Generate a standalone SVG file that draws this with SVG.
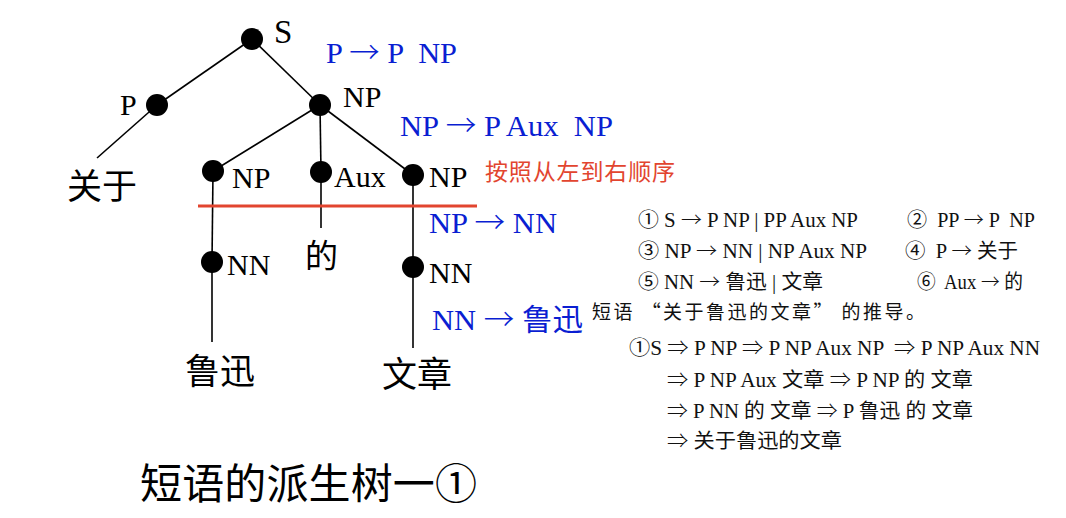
<svg xmlns="http://www.w3.org/2000/svg" width="1066" height="518" viewBox="0 0 1066 518">
<style>
.lbl{font-family:"Liberation Serif","Noto Sans CJK SC",serif;font-size:30px;fill:#000}
.cjk{font-family:"Noto Sans CJK SC",sans-serif;font-size:35px;fill:#000}
.blue{font-family:"Liberation Serif","Noto Sans CJK SC",serif;font-size:30px;fill:#0a1ed2;white-space:pre}
.red{font-family:"Noto Sans CJK SC",sans-serif;font-size:23px;fill:#e2452f}
.rt{font-family:"Liberation Serif","DejaVu Serif","Noto Sans CJK SC",serif;font-size:20px;fill:#111;white-space:pre}
.rc{font-family:"Noto Sans CJK SC",sans-serif;font-size:19px;fill:#111}
.ar{font-family:"Noto Sans CJK SC",sans-serif;font-weight:300}
.title{font-family:"Noto Sans CJK SC",sans-serif;font-size:42px;fill:#000}
.e{stroke:#000;stroke-width:1.6;fill:none}
.dot{fill:#000}
</style>
<g id="connectors">
<line class="e" x1="252" y1="39" x2="157" y2="105"/>
<line class="e" x1="252" y1="39" x2="320" y2="105"/>
<line class="e" x1="157" y1="105" x2="97" y2="158"/>
<line class="e" x1="320" y1="105" x2="213" y2="171"/>
<line class="e" x1="320" y1="105" x2="321" y2="172"/>
<line class="e" x1="320" y1="105" x2="413" y2="175"/>
<line class="e" x1="213" y1="171" x2="212" y2="262"/>
<line class="e" x1="212" y1="262" x2="212" y2="342"/>
<line class="e" x1="321" y1="172" x2="321" y2="228"/>
<line class="e" x1="413" y1="175" x2="413" y2="267"/>
<line class="e" x1="413" y1="267" x2="413" y2="348"/>
</g>
<g id="node-S"><circle class="dot" cx="252" cy="39" r="11"/><text class="lbl" x="274" y="43" style="font-size:33px">S</text></g>
<g id="node-P"><circle class="dot" cx="157" cy="105" r="11"/><text class="lbl" x="120" y="115">P</text></g>
<g id="node-NP"><circle class="dot" cx="320" cy="105" r="11"/><text class="lbl" x="343" y="107">NP</text></g>
<g id="leaf-guanyu"><text class="cjk" x="67" y="199">关于</text></g>
<g id="node-NP-left"><circle class="dot" cx="213" cy="171" r="11"/><text class="lbl" x="232" y="188">NP</text></g>
<g id="node-Aux"><circle class="dot" cx="321" cy="172" r="11"/><text class="lbl" x="334" y="187">Aux</text></g>
<g id="node-NP-right"><circle class="dot" cx="413" cy="175" r="11"/><text class="lbl" x="429" y="187">NP</text></g>
<g id="node-NN-left"><circle class="dot" cx="212" cy="262" r="11"/><text class="lbl" x="227" y="275">NN</text></g>
<g id="leaf-de"><text class="cjk" x="305" y="268" style="font-size:33px">的</text></g>
<g id="node-NN-right"><circle class="dot" cx="413" cy="267" r="11"/><text class="lbl" x="429" y="283">NN</text></g>
<g id="leaf-luxun"><text class="cjk" x="185" y="384">鲁迅</text></g>
<g id="leaf-wenzhang"><text class="cjk" x="382" y="387">文章</text></g>
<g id="divider"><line x1="198" y1="206" x2="477" y2="206" stroke="#e2452f" stroke-width="3"/></g>
<g id="annotations">
<text class="blue" x="326" y="63" textLength="131" lengthAdjust="spacingAndGlyphs">P <tspan class="ar">→</tspan> P  NP</text>
<text class="blue" x="400" y="136" textLength="213" lengthAdjust="spacingAndGlyphs">NP <tspan class="ar">→</tspan> P Aux  NP</text>
<text class="red" x="485" y="180" textLength="190">按照从左到右顺序</text>
<text class="blue" x="429" y="233" textLength="128" lengthAdjust="spacingAndGlyphs">NP <tspan class="ar">→</tspan> NN</text>
<text class="blue" x="432" y="330" textLength="151" lengthAdjust="spacingAndGlyphs">NN <tspan class="ar">→</tspan> 鲁迅</text>
</g>
<g id="rules">
<text class="rt" x="638" y="227" textLength="220" lengthAdjust="spacingAndGlyphs">① S <tspan class="ar">→</tspan> P NP | PP Aux NP</text>
<text class="rt" x="907" y="227" textLength="128" lengthAdjust="spacingAndGlyphs">②  PP <tspan class="ar">→</tspan> P  NP</text>
<text class="rt" x="638" y="258" textLength="229" lengthAdjust="spacingAndGlyphs">③ NP <tspan class="ar">→</tspan> NN | NP Aux NP</text>
<text class="rt" x="905" y="258" textLength="113" lengthAdjust="spacingAndGlyphs">④  P <tspan class="ar">→</tspan> 关于</text>
<text class="rt" x="638" y="289" textLength="185" lengthAdjust="spacingAndGlyphs">⑤ NN <tspan class="ar">→</tspan> 鲁迅 | 文章</text>
<text class="rt" x="917" y="289" textLength="106" lengthAdjust="spacingAndGlyphs">⑥  Aux <tspan class="ar">→</tspan> 的</text>
<text class="rc" x="592" y="319" textLength="333">短语 “关于鲁迅的文章” 的推导。</text>
</g>
<g id="derivation">
<text class="rt" x="629" y="355" textLength="411" lengthAdjust="spacingAndGlyphs">①S <tspan class="ar">⇒</tspan> P NP <tspan class="ar">⇒</tspan> P NP Aux NP  <tspan class="ar">⇒</tspan> P NP Aux NN</text>
<text class="rt" x="667" y="387" textLength="306" lengthAdjust="spacingAndGlyphs"><tspan class="ar">⇒</tspan> P NP Aux 文章 <tspan class="ar">⇒</tspan> P NP 的 文章</text>
<text class="rt" x="667" y="418" textLength="306" lengthAdjust="spacingAndGlyphs"><tspan class="ar">⇒</tspan> P NN 的 文章 <tspan class="ar">⇒</tspan> P 鲁迅 的 文章</text>
<text class="rt" x="667" y="448" textLength="175" lengthAdjust="spacingAndGlyphs"><tspan class="ar">⇒</tspan> 关于鲁迅的文章</text>
</g>
<g id="caption"><text class="title" x="140" y="499" textLength="337">短语的派生树一①</text></g>
</svg>
